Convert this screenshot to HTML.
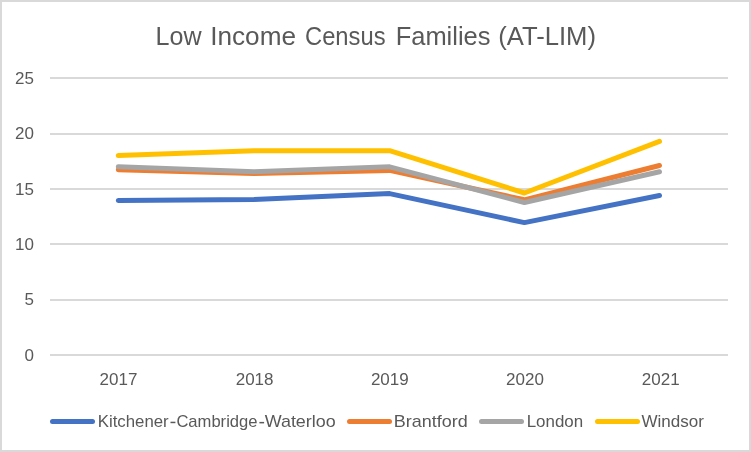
<!DOCTYPE html>
<html><head><meta charset="utf-8">
<style>
html,body{margin:0;padding:0;background:#fff;}
body{width:751px;height:452px;overflow:hidden;}
svg{display:block;will-change:transform;}
text{font-family:"Liberation Sans",sans-serif;fill:#595959;}
</style></head>
<body>
<svg width="751" height="452" viewBox="0 0 751 452">
<rect x="0" y="0" width="751" height="452" fill="#ffffff"/>
<rect x="1" y="1" width="749" height="450" fill="none" stroke="#d9d9d9" stroke-width="2"/>
<g font-size="25.6">
<text x="155.5" y="44.6" textLength="46" lengthAdjust="spacingAndGlyphs">Low</text>
<text x="210.2" y="44.6" textLength="85.8" lengthAdjust="spacingAndGlyphs">Income</text>
<text x="305" y="44.6" textLength="80.5" lengthAdjust="spacingAndGlyphs">Census</text>
<text x="395.7" y="44.6" textLength="94.8" lengthAdjust="spacingAndGlyphs">Families</text>
<text x="498.2" y="44.6" textLength="97.8" lengthAdjust="spacingAndGlyphs">(AT-LIM)</text>
</g>
<g fill="#d9d9d9">
<rect x="50" y="77" width="678" height="2"/>
<rect x="50" y="133" width="678" height="2"/>
<rect x="50" y="188" width="678" height="2"/>
<rect x="50" y="243" width="678" height="2"/>
<rect x="50" y="299" width="678" height="2"/>
<rect x="50" y="354" width="678" height="2"/>
</g>
<g font-size="17" text-anchor="end">
<text x="34" y="84">25</text>
<text x="34" y="139">20</text>
<text x="34" y="195">15</text>
<text x="34" y="250">10</text>
<text x="34" y="305">5</text>
<text x="34" y="361">0</text>
</g>
<g font-size="17" text-anchor="middle">
<text x="118.5" y="385">2017</text>
<text x="254.6" y="385">2018</text>
<text x="389.8" y="385">2019</text>
<text x="525" y="385">2020</text>
<text x="660.7" y="385">2021</text>
</g>
<g fill="none" stroke-width="5" stroke-linecap="round" stroke-linejoin="round">
<polyline stroke="#4472c4" points="118.3,200.6 254,199.4 389.6,193.6 524.4,222.6 659.5,195.5"/>
<polyline stroke="#ed7d31" points="118.3,169.8 254,173.6 389.6,170.4 524.4,199.8 659.5,165.5"/>
<polyline stroke="#a5a5a5" points="118.3,166.8 254,171.8 389.6,166.8 524.4,202.5 659.5,171.7"/>
<polyline stroke="#ffc000" points="118.3,155.6 254,150.7 389.6,150.7 524.4,193.0 659.5,141.4"/>
</g>
<g fill="none" stroke-width="5" stroke-linecap="round">
<line x1="52.5" y1="421.5" x2="92.5" y2="421.5" stroke="#4472c4"/>
<line x1="349.5" y1="421.5" x2="389.5" y2="421.5" stroke="#ed7d31"/>
<line x1="481.5" y1="421.5" x2="521.5" y2="421.5" stroke="#a5a5a5"/>
<line x1="597.5" y1="421.5" x2="637.5" y2="421.5" stroke="#ffc000"/>
</g>
<g font-size="17">
<text x="97.7" y="427" textLength="71" lengthAdjust="spacingAndGlyphs">Kitchener</text>
<rect x="170.5" y="421.7" width="4.9" height="1.5" fill="#595959"/>
<text x="176.4" y="427" textLength="81.1" lengthAdjust="spacingAndGlyphs">Cambridge</text>
<rect x="259.4" y="421.9" width="4.7" height="1.5" fill="#595959"/>
<text x="264.7" y="427" textLength="71" lengthAdjust="spacingAndGlyphs">Waterloo</text>
<text x="393.7" y="427" textLength="74" lengthAdjust="spacingAndGlyphs">Brantford</text>
<text x="526.7" y="427" textLength="56.5" lengthAdjust="spacingAndGlyphs">London</text>
<text x="641.5" y="427" textLength="62.5" lengthAdjust="spacingAndGlyphs">Windsor</text>
</g>
</svg>
</body></html>
